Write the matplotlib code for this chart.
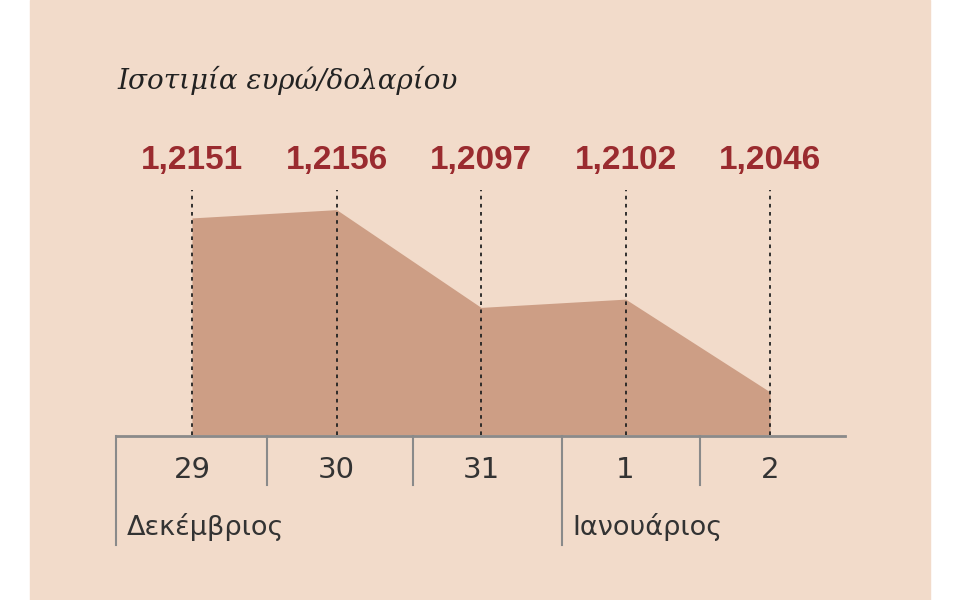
import matplotlib
matplotlib.use("Agg")
import matplotlib.pyplot as plt
from matplotlib.lines import Line2D
from matplotlib.patches import Rectangle

days = ["29", "30", "31", "1", "2"]
values = [1.2151, 1.2156, 1.2097, 1.2102, 1.2046]
labels = ["1,2151", "1,2156", "1,2097", "1,2102", "1,2046"]
months = ["Δεκέμβριος", "Ιανουάριος"]
title = "Ισοτιμία ευρώ/δολαρίου"

BG = "#f2dbca"; FILL = "#cd9e85"; RED = "#9a2b2f"; GREY = "#8a8a8a"
W, H = 960, 600
fig = plt.figure(figsize=(9.6, 6), dpi=100)
fig.patch.set_facecolor("white")
fig.add_artist(Rectangle((30/W, 0), 900/W, 1, transform=fig.transFigure, color=BG, zorder=0))

ax = fig.add_axes([116/W, (H-435)/H, (845-116)/W, (435-150)/H])
ax.set_facecolor("none")
x = list(range(len(values)))
base = 1.2020
ax.fill_between(x, values, base, color=FILL, lw=0, zorder=2)
ax.set_xlim(-0.526, 4.519)
ax.set_ylim(base, base + 285/16571)
ax.axis("off")
ytop = base + (435-190)/16571
for i, v in enumerate(values):
    ax.plot([i, i], [base, ytop], ls=(0, (2, 2.5)), color="#222222", lw=1.3, zorder=3)
    ax.text(i, base + (435-160)/16571, labels[i], ha="center", va="center",
            fontsize=24, fontweight="bold", color=RED, family=["Liberation Sans", "DejaVu Sans"])
    ax.text(i, base - (470-435)/16571, days[i], ha="center", va="center",
            fontsize=21, color="#333333", clip_on=False)

def pline(x0, y0, x1, y1, **kw):
    fig.add_artist(Line2D([x0/W, x1/W], [1-y0/H, 1-y1/H], transform=fig.transFigure, **kw))

pline(116, 436, 845, 436, color=GREY, lw=2)
for px, bottom in [(116, 545), (267, 485), (413, 485), (562, 545), (700, 485)]:
    pline(px, 436, px, bottom, color=GREY, lw=1.5)

fig.text(127/W, 1-527/H, months[0], fontsize=19.5, color="#333333", va="center")
fig.text(572/W, 1-527/H, months[1], fontsize=19.5, color="#333333", va="center")
fig.text(117/W, 1-80/H, title, fontsize=20, style="italic", family="DejaVu Serif",
         color="#222222", va="center")

fig.savefig("out.png", dpi=100)
